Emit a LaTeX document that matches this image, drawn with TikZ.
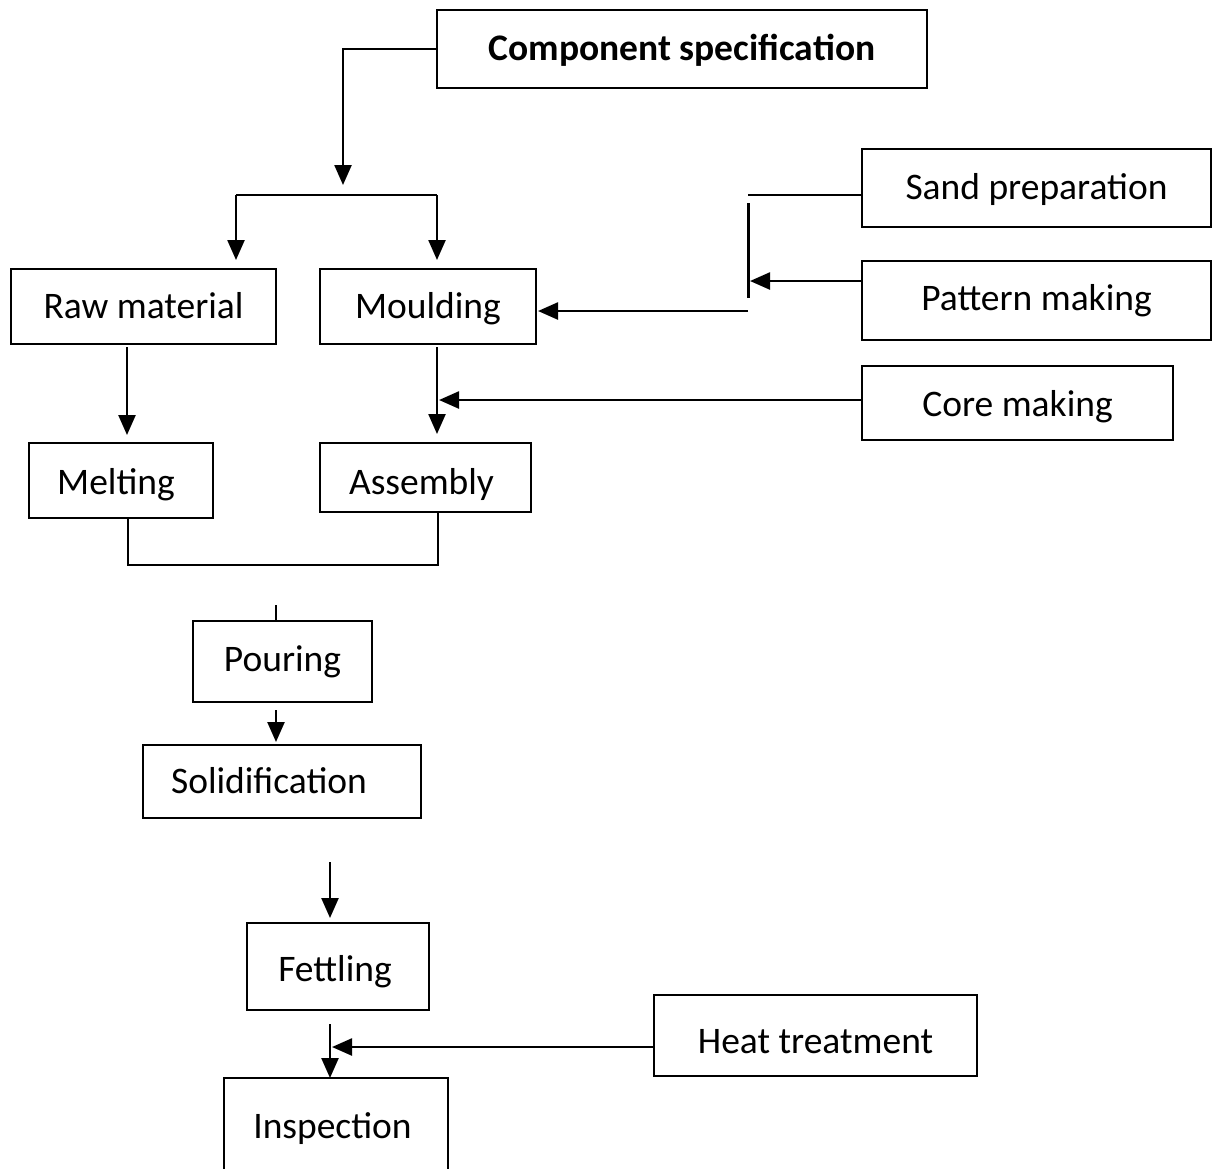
\documentclass[tikz,border=0pt]{standalone}
\usepackage{fontspec}
\setmainfont{Carlito}
\usetikzlibrary{arrows.meta}
\begin{document}
\begin{tikzpicture}[x=1pt,y=-1pt,
  box/.style={draw, line width=2.6pt, rectangle, inner sep=0pt, outer sep=0pt,
    text height=23pt, text depth=0pt,
    font=\fontsize{37.5}{45}\selectfont},
  conn/.style={line width=2.4pt},
  arr/.style={conn, -{Triangle[length=20pt,width=17pt]}}]
\clip (0,0) rectangle (1217,1168);
\useasboundingbox (0,0) rectangle (1217,1168);
\fill[white] (0,0) rectangle (1217,1168);
% boxes
\node[box, minimum width=490pt, minimum height=78pt, text height=22pt, font=\fontsize{37.5}{45}\selectfont\bfseries] (comp) at (682,49) {Component specification};
\node[box, minimum width=349pt, minimum height=78pt, text height=22.6pt] (sand) at (1036.5,188) {Sand preparation};
\node[box, minimum width=349pt, minimum height=79pt, text height=19pt] (pattern) at (1036.5,300.5) {Pattern making};
\node[box, minimum width=311pt, minimum height=74pt, text height=27pt] (core) at (1017.5,403) {Core making};
\node[box, minimum width=265pt, minimum height=75pt] (raw) at (143.5,306.5) {Raw material};
\node[box, minimum width=216pt, minimum height=75pt] (mould) at (428,306.5) {Moulding};
\node[box, minimum width=184pt, minimum height=75pt, text height=27pt] (melt) at (121,480.5) {Melting\hspace*{10pt}};
\node[box, minimum width=211pt, minimum height=69pt, text height=33pt] (assem) at (425.5,477.5) {Assembly\hspace*{8pt}};
\node[box, minimum width=179pt, minimum height=81pt, text height=20pt] (pour) at (282.5,661.5) {Pouring};
\node[box, minimum width=278pt, minimum height=73pt] (solid) at (282,781.5) {Solidification\hspace*{26pt}};
\node[box, minimum width=182pt, minimum height=87pt, text height=30pt] (fett) at (338,966.5) {Fettling\hspace*{6pt}};
\node[box, minimum width=323pt, minimum height=81pt, text height=35pt] (heat) at (815.5,1035.5) {Heat treatment};
\node[box, minimum width=224pt, minimum height=100pt, text height=20pt] (insp) at (336,1128) {Inspection\hspace*{7pt}};
% connector points
\coordinate (split) at (343,185);
\coordinate (bl) at (236,195);
\coordinate (br) at (437,195);
\coordinate (sj) at (748,195);
\coordinate (vb1) at (748,203);
\coordinate (vb2) at (748,298);
\coordinate (pj) at (750,281);
\coordinate (mj) at (748,311);
\coordinate (cj) at (439,400);
\coordinate (jl) at (128,565);
\coordinate (jr) at (438,565);
\coordinate (ps) at (276,605);
\coordinate (fs) at (330,862);
\coordinate (hj) at (332,1047);
% connectors
\draw[arr] (comp.west) -| (split);
\draw[conn] (bl) -- (br);
\draw[arr, shorten >=9pt] (bl) -- (bl |- raw.north);
\draw[arr, shorten >=9pt] (br) -- (br |- mould.north);
\draw[line width=1.6pt] ([yshift=-7pt]sand.west) -- (sj);
\draw[line width=3pt] (vb1) -- (vb2);
\draw[arr] ([yshift=19.5pt]pattern.west) -- (pj);
\draw[arr, shorten >=2pt] (mj) -- (mj -| mould.east);
\draw[arr, shorten <=3pt, shorten >=8pt] ([xshift=-16.5pt]raw.south) -- ([xshift=6pt]melt.north);
\draw[arr, shorten <=3pt, shorten >=9pt] ([xshift=9pt]mould.south) -- ([xshift=11.5pt]assem.north);
\draw[arr] ([yshift=3pt]core.west) -- (cj);
\draw[conn] ([xshift=7pt]melt.south) -- (jl) -- (jr) -- ([xshift=12.5pt]assem.south);
\draw[conn] (ps) -- (ps |- pour.north);
\draw[arr, shorten <=8pt, shorten >=3pt] (pour.south -| ps) -- (solid.north -| ps);
\draw[arr, shorten >=5pt] (fs) -- (fs |- fett.north);
\draw[arr, shorten <=14pt] (fett.south -| fs) -- (insp.north -| fs);
\draw[arr] ([yshift=-11.5pt]heat.west) -- (hj);
\end{tikzpicture}
\end{document}
